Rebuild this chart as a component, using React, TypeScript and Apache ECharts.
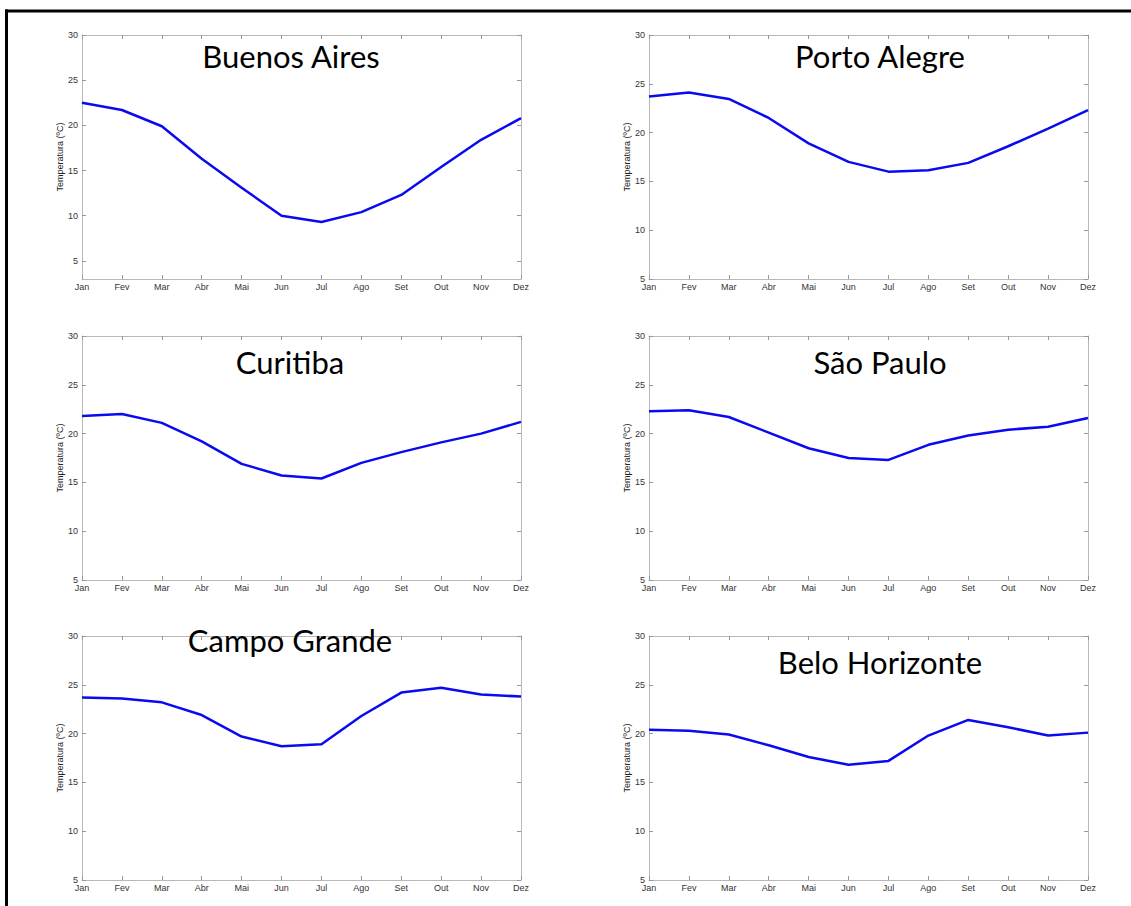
import React, { useEffect, useRef } from 'react';
import * as echarts from 'echarts';

const months = ['Jan', 'Fev', 'Mar', 'Abr', 'Mai', 'Jun', 'Jul', 'Ago', 'Set', 'Out', 'Nov', 'Dez'];
const cities = ['Buenos Aires', 'Porto Alegre', 'Curitiba', 'São Paulo', 'Campo Grande', 'Belo Horizonte'];
const buenosAires = [22.5, 21.7, 19.9, 16.3, 13.1, 10.0, 9.3, 10.4, 12.3, 15.4, 18.4, 20.8];
const portoAlegre = [23.7, 24.1, 23.45, 21.5, 18.9, 17.0, 16.0, 16.15, 16.9, 18.6, 20.4, 22.3];
const curitiba = [21.8, 22.0, 21.1, 19.2, 16.9, 15.7, 15.4, 17.0, 18.1, 19.1, 20.0, 21.2];
const saoPaulo = [22.3, 22.4, 21.7, 20.1, 18.5, 17.5, 17.3, 18.85, 19.8, 20.4, 20.7, 21.6];
const campoGrande = [23.7, 23.6, 23.2, 21.9, 19.7, 18.7, 18.9, 21.8, 24.2, 24.7, 24.0, 23.8];
const beloHorizonte = [20.4, 20.3, 19.9, 18.8, 17.6, 16.8, 17.2, 19.8, 21.4, 20.65, 19.8, 20.1];
const seriesData = [buenosAires, portoAlegre, curitiba, saoPaulo, campoGrande, beloHorizonte];
const yMins = [3, 5, 5, 5, 5, 5];
const yMax = 30;
const yTicks = [5, 10, 15, 20, 25, 30];
const yAxisName = 'Temperatura (ºC)';

const gridPos = [
  { left: 82, top: 35 },
  { left: 649, top: 35 },
  { left: 82, top: 336 },
  { left: 649, top: 336 },
  { left: 82, top: 636 },
  { left: 649, top: 636 },
];
const titlePos = [
  { x: 291, y: 56 },
  { x: 880, y: 56 },
  { x: 290, y: 362 },
  { x: 880, y: 362 },
  { x: 290, y: 640 },
  { x: 880, y: 662 },
];
const GW = 439;
const GH = 244;
const AXIS_COLOR = '#b8b8b8';
const LABEL_COLOR = '#333333';

export default function App() {
  const ref = useRef<HTMLDivElement>(null);
  useEffect(() => {
    if (!ref.current) return;
    const chart = echarts.init(ref.current, undefined, { renderer: 'svg' });
    const grid: any[] = [];
    const xAxis: any[] = [];
    const yAxis: any[] = [];
    const series: any[] = [];
    const graphic: any[] = [];
    cities.forEach((city, i) => {
      grid.push({ left: gridPos[i].left, top: gridPos[i].top, width: GW, height: GH, containLabel: false });
      const xBase = {
        gridIndex: i,
        type: 'category',
        data: months,
        boundaryGap: false,
        axisLine: { show: true, onZero: false, lineStyle: { color: AXIS_COLOR, width: 1 } },
        axisTick: { show: true, inside: true, length: 4, interval: 0, lineStyle: { color: '#999' } },
        splitLine: { show: false },
      };
      xAxis.push({
        ...xBase,
        position: 'bottom',
        axisLabel: {
          show: true,
          interval: 0,
          margin: 3,
          fontSize: 9,
          fontFamily: 'Liberation Sans, Arial, sans-serif',
          color: LABEL_COLOR,
        },
      });
      xAxis.push({ ...xBase, position: 'top', axisLabel: { show: false } });
      const yBase = {
        gridIndex: i,
        type: 'value',
        min: yMins[i],
        max: yMax,
        axisLine: { show: true, onZero: false, lineStyle: { color: AXIS_COLOR, width: 1 } },
        axisTick: { show: true, inside: true, length: 4, customValues: yTicks, lineStyle: { color: '#999' } },
        splitLine: { show: false },
      };
      yAxis.push({
        ...yBase,
        position: 'left',
        name: yAxisName,
        nameLocation: 'middle',
        nameGap: 15,
        nameTextStyle: { fontSize: 9, color: '#222', fontFamily: 'Liberation Sans, Arial, sans-serif' },
        axisLabel: {
          show: true,
          customValues: yTicks,
          margin: 4,
          fontSize: 9,
          fontFamily: 'Liberation Sans, Arial, sans-serif',
          color: LABEL_COLOR,
        },
      });
      yAxis.push({ ...yBase, position: 'right', axisLabel: { show: false } });
      series.push({
        type: 'line',
        name: city,
        xAxisIndex: 2 * i,
        yAxisIndex: 2 * i,
        data: seriesData[i],
        symbol: 'none',
        silent: true,
        lineStyle: { color: '#0a0af0', width: 2.5 },
      });
      graphic.push({
        type: 'text',
        x: titlePos[i].x,
        y: titlePos[i].y,
        style: {
          text: city,
          fontSize: 31,
          fontFamily: 'Lato, Open Sans, sans-serif',
          fill: '#000',
          align: 'center',
          verticalAlign: 'middle',
        },
        z: 10,
      });
    });
    graphic.push({
      type: 'line',
      shape: { x1: 5, y1: 11, x2: 1131, y2: 11 },
      style: { stroke: '#000', lineWidth: 3 },
    });
    graphic.push({
      type: 'line',
      shape: { x1: 6.5, y1: 9.5, x2: 6.5, y2: 906 },
      style: { stroke: '#000', lineWidth: 3 },
    });
    chart.setOption({
      animation: false,
      backgroundColor: '#ffffff',
      grid,
      xAxis,
      yAxis,
      series,
      graphic,
    });
    return () => chart.dispose();
  }, []);
  return (
    <div
      ref={ref}
      style={{ position: 'absolute', left: 0, top: 0, width: 1131, height: 906 }}
    />
  );
}
